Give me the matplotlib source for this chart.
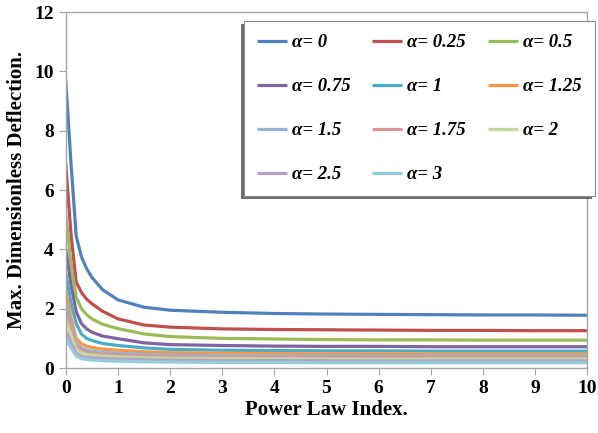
import numpy as np
import matplotlib
matplotlib.use("Agg")
import matplotlib.pyplot as plt
from matplotlib.patches import Rectangle

plt.rcParams['font.family'] = ['Liberation Serif', 'DejaVu Serif']

# Power law index samples
n = [0, 0.1, 0.2, 0.3, 0.4, 0.5, 0.7, 1, 1.5, 2, 3, 4, 5, 6, 7, 8, 9, 10]

# Max. dimensionless deflection for each alpha
a0 = [9.70, 6.90, 4.45, 3.75, 3.35, 3.06, 2.65, 2.30, 2.05, 1.95, 1.88, 1.84, 1.82, 1.81, 1.80, 1.79, 1.79, 1.78]
a025 = [6.88, 4.50, 2.90, 2.55, 2.32, 2.17, 1.92, 1.66, 1.45, 1.38, 1.32, 1.30, 1.29, 1.28, 1.27, 1.27, 1.26, 1.26]
a05 = [5.17, 3.50, 2.40, 2.00, 1.80, 1.66, 1.48, 1.33, 1.15, 1.06, 1.00, 0.98, 0.96, 0.95, 0.95, 0.94, 0.94, 0.94]
a075 = [4.02, 2.80, 1.90, 1.50, 1.32, 1.21, 1.08, 0.99, 0.85, 0.79, 0.76, 0.74, 0.73, 0.73, 0.72, 0.72, 0.72, 0.72]
a1 = [3.20, 2.20, 1.50, 1.15, 1.00, 0.93, 0.83, 0.76, 0.68, 0.63, 0.60, 0.59, 0.58, 0.58, 0.57, 0.57, 0.57, 0.57]
a125 = [2.62, 1.70, 1.00, 0.82, 0.74, 0.69, 0.64, 0.60, 0.55, 0.52, 0.50, 0.49, 0.48, 0.48, 0.47, 0.47, 0.47, 0.47]
a15 = [2.20, 1.45, 0.85, 0.68, 0.61, 0.57, 0.53, 0.50, 0.46, 0.44, 0.42, 0.41, 0.41, 0.40, 0.40, 0.40, 0.40, 0.40]
a175 = [1.90, 1.25, 0.75, 0.60, 0.53, 0.50, 0.47, 0.44, 0.40, 0.38, 0.37, 0.36, 0.36, 0.35, 0.35, 0.35, 0.35, 0.35]
a2 = [1.65, 1.10, 0.65, 0.52, 0.46, 0.44, 0.41, 0.38, 0.35, 0.33, 0.32, 0.31, 0.31, 0.30, 0.30, 0.30, 0.30, 0.30]
a25 = [1.25, 0.85, 0.50, 0.40, 0.36, 0.35, 0.32, 0.30, 0.28, 0.26, 0.25, 0.25, 0.24, 0.24, 0.24, 0.24, 0.24, 0.24]
a3 = [1.00, 0.68, 0.40, 0.32, 0.29, 0.27, 0.25, 0.23, 0.21, 0.20, 0.19, 0.19, 0.18, 0.18, 0.18, 0.18, 0.18, 0.18]

series = [a0, a025, a05, a075, a1, a125, a15, a175, a2, a25, a3]
labels = ['α= 0', 'α= 0.25', 'α= 0.5', 'α= 0.75', 'α= 1', 'α= 1.25',
          'α= 1.5', 'α= 1.75', 'α= 2', 'α= 2.5', 'α= 3']
colors = ['#4F81BD', '#C0504D', '#9BBB59', '#8064A2', '#4BACC6', '#F79646',
          '#95B3D7', '#D99694', '#C3D69B', '#B3A2C7', '#93CDDD']

fig = plt.figure(figsize=(5.98, 4.33), dpi=100)
ax = fig.add_axes([0.110, 0.150, 0.872, 0.822])

handles = []
for y, lab, c in zip(series, labels, colors):
    h, = ax.plot(n, y, color=c, lw=2.3, label=lab, solid_capstyle='butt')
    handles.append(h)

ax.set_xlim(0, 10)
ax.set_ylim(0, 12)
ax.set_xticks(range(0, 11))
ax.set_yticks(range(0, 13, 2))
for s in ax.spines.values():
    s.set_color('#a6a6a6')
    s.set_linewidth(1.0)
ax.tick_params(direction='out', length=5, color='#a6a6a6', labelsize=14)
for t in ax.get_xticklabels() + ax.get_yticklabels():
    t.set_fontweight('bold')

ax.set_xlabel('Power Law Index.', fontsize=15, fontweight='bold', labelpad=2)
ax.set_ylabel('Max. Dimensionless Deflection.', fontsize=15, fontweight='bold', labelpad=5)

# legend filled row by row (matplotlib fills columns first)
order = [0, 3, 6, 9, 1, 4, 7, 10, 2, 5, 8]
leg = ax.legend([handles[i] for i in order], [labels[i] for i in order],
                loc='upper left', bbox_to_anchor=(0.341, 0.975), ncol=3,
                prop={'style': 'italic', 'weight': 'bold', 'size': 13.5},
                frameon=True, fancybox=False, framealpha=1.0,
                handlelength=1.6, handletextpad=0.27, columnspacing=1.17,
                labelspacing=1.43, borderpad=0.7, borderaxespad=0)
leg.get_frame().set_edgecolor('#8c8c8c')
leg.get_frame().set_facecolor('white')
leg.get_frame().set_linewidth(0.8)
leg.set_zorder(5)

# drop shadow down-left of the legend box
fig.canvas.draw()
bb = leg.get_window_extent().transformed(ax.transAxes.inverted())
dx = 3 / (ax.bbox.width)
dy = 3 / (ax.bbox.height)
ax.add_patch(Rectangle((bb.x0 - dx, bb.y0 - dy), bb.width, bb.height,
                       transform=ax.transAxes, facecolor='#555555', alpha=0.85,
                       edgecolor='none', zorder=4.9, clip_on=False))

fig.savefig('out.png', dpi=100)
